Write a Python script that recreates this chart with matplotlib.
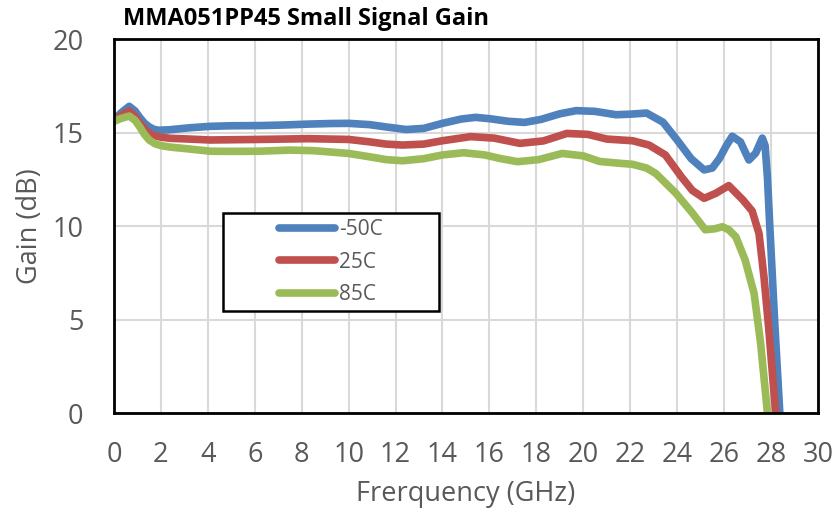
import matplotlib
matplotlib.use('Agg')
import matplotlib.pyplot as plt
from matplotlib.patches import Rectangle

# Dane (GHz, dB)
freq_m50 = [0, 0.3, 0.65, 0.9, 1.1, 1.3, 1.5, 1.7, 1.9, 2.4, 3.2, 4.1, 5.0, 6.2, 7.2,
            8.3, 9.2, 10.0, 10.9, 11.7, 12.45, 13.2, 14.0, 14.8, 15.4, 16.0, 16.8,
            17.5, 18.2, 19.0, 19.7, 20.5, 21.4, 22.0, 22.7, 23.4, 24.0, 24.6, 25.15,
            25.5, 25.8, 26.1, 26.35, 26.7, 27.06, 27.35, 27.63, 27.75, 27.85, 27.95,
            28.17, 28.4]
gain_m50 = [15.65, 16.05, 16.4, 16.15, 15.8, 15.5, 15.3, 15.17, 15.12, 15.15, 15.25,
            15.33, 15.36, 15.37, 15.4, 15.45, 15.48, 15.49, 15.42, 15.28, 15.16,
            15.22, 15.49, 15.72, 15.81, 15.74, 15.6, 15.54, 15.7, 16.0, 16.17, 16.13,
            15.95, 15.98, 16.04, 15.55, 14.6, 13.6, 13.0, 13.1, 13.6, 14.3, 14.8,
            14.5, 13.53, 13.9, 14.7, 14.3, 12.6, 10.0, 4.6, -0.5]

freq_25 = [0, 0.3, 0.65, 0.9, 1.1, 1.3, 1.5, 1.75, 2.0, 2.4, 3.2, 4.1, 6.2, 8.3, 10.0,
           10.9, 11.6, 12.3, 13.2, 14.0, 15.2, 16.2, 17.3, 18.3, 19.3, 20.2, 21.0,
           21.6, 22.1, 22.8, 23.5, 24.2, 24.65, 25.15, 25.65, 26.2, 26.8, 27.2, 27.49,
           27.7, 27.9, 28.2, 28.3]
gain_25 = [15.6, 15.9, 16.15, 15.85, 15.5, 15.2, 14.96, 14.82, 14.75, 14.69, 14.65,
           14.6, 14.63, 14.67, 14.63, 14.5, 14.38, 14.33, 14.38, 14.56, 14.78, 14.7,
           14.42, 14.55, 14.95, 14.9, 14.65, 14.6, 14.56, 14.33, 13.8, 12.6, 11.9,
           11.48, 11.75, 12.16, 11.4, 10.8, 9.6, 7.3, 4.6, 0.0, -0.5]

freq_85 = [0, 0.3, 0.65, 0.9, 1.1, 1.3, 1.5, 1.75, 2.0, 2.4, 3.2, 4.1, 5.0, 6.2, 7.5,
           8.5, 9.3, 10.0, 10.9, 11.6, 12.3, 13.2, 14.0, 14.9, 15.8, 16.5, 17.2, 18.1,
           19.1, 20.0, 20.7, 21.6, 22.1, 22.7, 23.1, 23.95, 24.66, 25.2, 25.6, 25.93,
           26.2, 26.5, 26.9, 27.28, 27.56, 27.85, 27.9]
gain_85 = [15.6, 15.75, 15.88, 15.65, 15.3, 14.9, 14.6, 14.4, 14.3, 14.22, 14.12,
           14.0, 13.99, 14.0, 14.06, 14.03, 13.95, 13.88, 13.7, 13.55, 13.49, 13.6,
           13.8, 13.92, 13.8, 13.6, 13.44, 13.55, 13.88, 13.75, 13.45, 13.35, 13.3,
           13.1, 12.8, 11.75, 10.68, 9.8, 9.85, 9.96, 9.8, 9.43, 8.18, 6.4, 3.73, 0.0,
           -0.5]

series_labels = ['-50C', '25C', '85C']
x_ticks = list(range(0, 31, 2))
y_ticks = [0, 5, 10, 15, 20]

plt.rcParams['font.family'] = ['Open Sans', 'DejaVu Sans']

fig = plt.figure(figsize=(8.38, 5.18), dpi=100)
ax = fig.add_axes([0.136, 0.2027, 0.840, 0.722])

colors = ['#4F81BD', '#C0504D', '#9BBB59']
for fx, gy, lab, c in zip([freq_m50, freq_25, freq_85], [gain_m50, gain_25, gain_85],
                          series_labels, colors):
    ax.plot(fx, gy, color=c, lw=5.5, label=lab, solid_capstyle='round',
            solid_joinstyle='round')

ax.set_xlim(0, 30)
ax.set_ylim(0, 20)
ax.set_xticks(x_ticks)
ax.set_yticks(y_ticks)
ax.tick_params(length=0, labelsize=19.5, labelcolor='#595959')
ax.tick_params(axis='y', pad=22)
ax.tick_params(axis='x', pad=20)
ax.grid(color='#D9D9D9', lw=1.5)
ax.set_axisbelow(True)
for s in ax.spines.values():
    s.set_color('black')
    s.set_linewidth(2)

ax.set_xlabel('Frerquency (GHz)', fontsize=19.5, color='#595959', labelpad=8)
ax.set_ylabel('Gain (dB)', fontsize=19.5, color='#595959', labelpad=6)

fig.text(0.147, 0.963, 'MMA051PP45 Small Signal Gain', fontsize=17,
         fontweight='bold', color='black', va='center', ha='left')

# Legenda w ramce
box = [0.266, 0.3996, 0.2578, 0.189]
fig.patches.append(Rectangle((box[0], box[1]), box[2], box[3], transform=fig.transFigure,
                             fill=True, facecolor='white', edgecolor='black', lw=1.8,
                             zorder=5))
leg = fig.legend(loc='center', bbox_to_anchor=(box[0], box[1], box[2], box[3]),
                 frameon=False, fontsize=15, handlelength=2.7, handletextpad=0.2,
                 labelspacing=0.55, labelcolor='#595959')
leg.set_zorder(6)

fig.savefig('out.png', dpi=100)
